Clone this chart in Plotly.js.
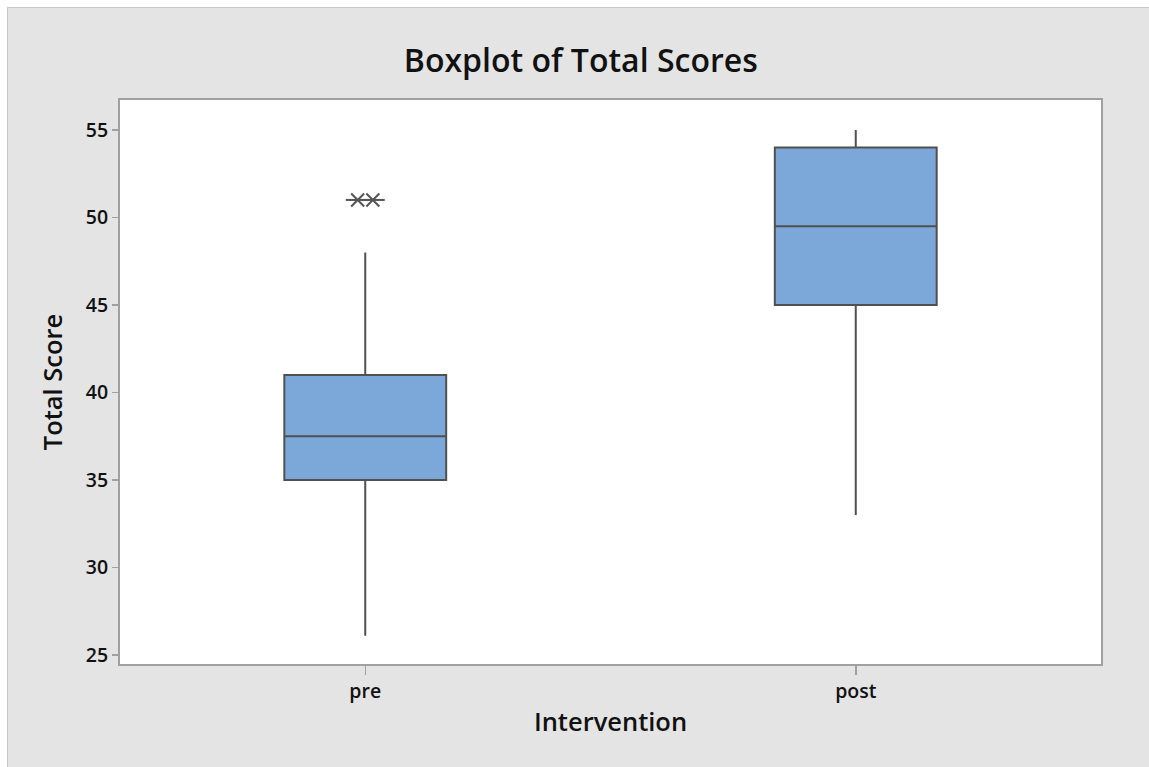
<!DOCTYPE html>
<html>
<head>
<meta charset="utf-8">
<script src="https://cdn.plot.ly/plotly-3.0.1.min.js"></script>
<style>
  html, body { margin: 0; padding: 0; background: #ffffff; width: 1149px; height: 767px; overflow: hidden; }
  #wrap { position: absolute; left: 7px; top: 7px; border-left: 1px solid #c8c8c8; border-top: 1px solid #c8c8c8; }
  #chart { width: 1141px; height: 759px; }
</style>
</head>
<body>
<div id="wrap"><div id="chart"></div></div>
<script>
// ---- data ----
const categories = ["pre", "post"];
const q1Values = [35, 45];
const medianValues = [37.5, 49.5];
const q3Values = [41, 54];
const lowerWhisker = [26.1, 33];
const upperWhisker = [48, 55];
const outlierGroup = [0, 0];      // index of category for each outlier
const outlierValues = [51, 51];

// ---- style ----
const boxFill = "#7BA7D9";
const lineCol = "#505050";
const fontFam = "'Open Sans', 'Noto Sans', sans-serif";

const traces = categories.map((c, i) => ({
  type: "box",
  x: [i],
  q1: [q1Values[i]],
  median: [medianValues[i]],
  q3: [q3Values[i]],
  lowerfence: [lowerWhisker[i]],
  upperfence: [upperWhisker[i]],
  width: 0.33,
  whiskerwidth: 0,
  fillcolor: boxFill,
  line: { color: lineCol, width: 2 },
  boxpoints: false,
  hoverinfo: "skip",
  showlegend: false
}));

// outliers: ties placed side by side around the category centre
const tieOffset = 0.0155;
const outX = outlierGroup.map((g, k) => {
  const same = outlierGroup.filter((gg, kk) => gg === g && outlierValues[kk] === outlierValues[k]).length;
  const rank = outlierGroup.slice(0, k).filter((gg, kk) => gg === g && outlierValues[kk] === outlierValues[k]).length;
  return g + (rank - (same - 1) / 2) * tieOffset * 2;
});
["x-thin-open", "line-ew-open"].forEach(sym => {
  traces.push({
    type: "scatter", mode: "markers",
    x: outX, y: outlierValues,
    marker: { symbol: sym, size: sym === "line-ew-open" ? 17 : 13, color: "#555555", line: { color: "#555555", width: 2 } },
    hoverinfo: "skip", showlegend: false
  });
});

const layout = {
  width: 1141, height: 759,
  paper_bgcolor: "#E4E4E4",
  plot_bgcolor: "#FFFFFF",
  margin: { l: 112, r: 48, t: 92, b: 103 },
  font: { family: fontFam, color: "#111111" },
  title: {
    text: "Boxplot of Total Scores",
    font: { size: 32, family: fontFam, weight: 600, color: "#111111" },
    xref: "container", x: 0.502, xanchor: "center",
    yref: "container", y: 0.931, yanchor: "middle"
  },
  xaxis: {
    range: [-0.5, 1.5],
    tickvals: categories.map((c, i) => i),
    ticktext: categories,
    ticks: "outside", ticklen: 9, tickwidth: 1.5, tickcolor: "#a0a0a0",
    tickfont: { size: 19.5, family: fontFam, weight: 600, color: "#111111" },
    showline: true, linecolor: "#a0a0a0", linewidth: 2, mirror: true,
    showgrid: false, zeroline: false,
    title: { text: "Intervention", font: { size: 25.5, family: fontFam, weight: 600, color: "#111111" }, standoff: 10 }
  },
  yaxis: {
    range: [24.49, 56.71],
    tickvals: [25, 30, 35, 40, 45, 50, 55],
    ticks: "outside", ticklen: 6, tickwidth: 1.5, tickcolor: "#a0a0a0",
    tickfont: { size: 19.5, family: fontFam, weight: 600, color: "#111111" },
    showline: true, linecolor: "#a0a0a0", linewidth: 2, mirror: true,
    showgrid: false, zeroline: false,
    title: { text: "Total Score", font: { size: 25.5, family: fontFam, weight: 600, color: "#111111" }, standoff: 16 }
  }
};

Plotly.newPlot("chart", traces, layout, { displayModeBar: false, staticPlot: true });
</script>
</body>
</html>
